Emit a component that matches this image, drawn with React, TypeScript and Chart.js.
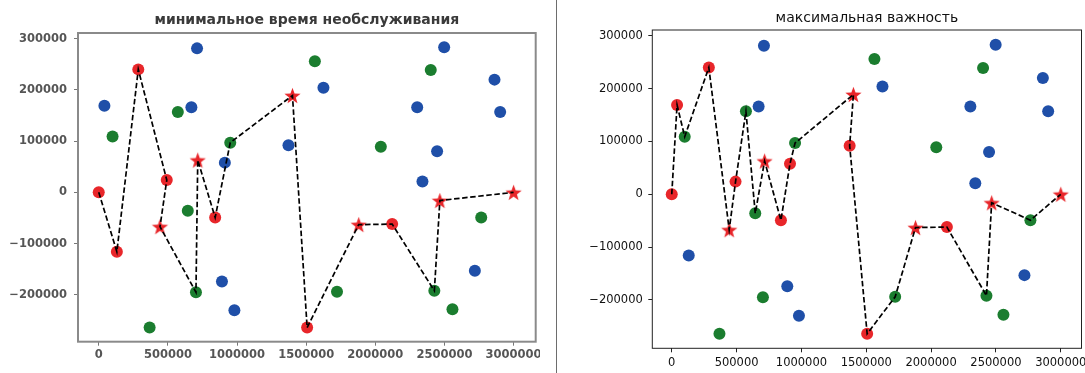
import React, { useEffect, useRef } from "react";
import { Chart, registerables } from "chart.js";

Chart.register(...registerables);

// ---- data ----
const pointX = [
  0, 41000, 100000, 131000, 286000, 368000, 443000, 492000, 572000, 644000,
  670000, 703000, 711000, 716000, 842000, 891000, 912000, 951000, 981000, 1372000,
  1401000, 1507000, 1563000, 1625000, 1723000, 1880000, 2040000, 2122000, 2303000, 2341000,
  2401000, 2427000, 2447000, 2467000, 2498000, 2558000, 2720000, 2766000, 2862000, 2903000,
  3000000,
];
const pointY = [
  0, 169000, 109000, -116000, 240000, -264000, -67000, 24000, 157000, -36000,
  166000, -195000, 281000, 63000, -49000, -174000, 58000, 97000, -230000, 92000,
  189000, -264000, 256000, 204000, -194000, -63000, 89000, -62000, 166000, 21000,
  239000, -192000, 80000, -16000, 283000, -228000, -153000, -49000, 220000, 157000,
  0,
];

const xTickValues = [0, 500000, 1000000, 1500000, 2000000, 2500000, 3000000];
const yTickValues = [-200000, -100000, 0, 100000, 200000, 300000];

// left panel: "минимальное время необслуживания"
const leftTitle = "минимальное время необслуживания";
const leftRed = [0, 3, 4, 7, 14, 21, 27];
const leftStars = [6, 13, 20, 25, 33, 40];
const leftGreen = [2, 5, 8, 9, 11, 17, 22, 24, 26, 30, 31, 35, 37];
const leftBlue = [1, 10, 12, 15, 16, 18, 19, 23, 28, 29, 32, 34, 36, 38, 39];
const leftRoute = [0, 3, 4, 7, 6, 11, 13, 14, 17, 20, 21, 25, 27, 31, 33, 40];

// right panel: "максимальная важность"
const rightTitle = "максимальная важность";
const rightRed = [0, 1, 4, 7, 14, 16, 19, 21, 27];
const rightStars = [6, 13, 20, 25, 33, 40];
const rightGreen = [2, 5, 8, 9, 11, 17, 22, 24, 26, 30, 31, 35, 37];
const rightBlue = [3, 10, 12, 15, 18, 23, 28, 29, 32, 34, 36, 38, 39];
const rightRoute = [0, 1, 2, 4, 6, 7, 8, 9, 13, 14, 16, 17, 20, 19, 21, 24, 25, 27, 31, 33, 37, 40];

const X_MIN = -150000;
const X_MAX = 3160000;
const Y_MIN = -291500;
const Y_MAX = 311000;

const RED = "#e8262a";
const GREEN = "#1b7d2f";
const BLUE = "#1f4fa8";

function pts(idx: number[]) {
  return idx.map((i) => ({ x: pointX[i], y: pointY[i] }));
}

function makeStar(outer: number, inner: number, color: string) {
  const size = Math.ceil(outer * 2 + 2);
  const c = document.createElement("canvas");
  c.width = size;
  c.height = size;
  const ctx = c.getContext("2d")!;
  ctx.beginPath();
  for (let i = 0; i < 10; i++) {
    const r = i % 2 === 0 ? outer : inner;
    const a = -Math.PI / 2 + (i * Math.PI) / 5;
    const px = size / 2 + r * Math.cos(a);
    const py = size / 2 + r * Math.sin(a) + 0.8;
    if (i === 0) ctx.moveTo(px, py);
    else ctx.lineTo(px, py);
  }
  ctx.closePath();
  ctx.fillStyle = color;
  ctx.fill();
  return c;
}

const fmt = (v: number) => String(v).replace("-", "\u2212");

const framePlugin = {
  id: "frame",
  afterDatasetsDraw(chart: any, _args: any, opts: any) {
    const { left, top, right, bottom } = chart.chartArea;
    const ctx = chart.ctx;
    ctx.save();
    ctx.strokeStyle = opts.color;
    ctx.lineWidth = opts.width;
    ctx.strokeRect(left, top, right - left, bottom - top);
    ctx.restore();
  },
};

type PanelProps = {
  title: string;
  red: number[];
  stars: number[];
  green: number[];
  blue: number[];
  route: number[];
  left: number;
  width: number;
  yAxisWidth: number;
  xAxisHeight: number;
  padRight: number;
  titleFont: any;
  titleColor: string;
  titlePad: { top: number; bottom: number };
  tickFont: any;
  tickColor: string;
  tickMarkColor: string;
  frameColor: string;
  frameWidth: number;
  xPad: number;
  yPad: number;
};

function Panel(p: PanelProps) {
  const ref = useRef<HTMLCanvasElement | null>(null);
  useEffect(() => {
    if (!ref.current) return;
    const star = makeStar(8.5, 3.5, RED);
    const chart = new Chart(ref.current, {
      type: "scatter",
      data: {
        datasets: [
          {
            label: "route",
            data: pts(p.route),
            showLine: true,
            borderColor: "#000",
            borderWidth: 1.7,
            borderDash: [5.5, 2.6],
            pointRadius: 0,
            fill: false,
            order: 0,
          },
          {
            label: "stars",
            data: pts(p.stars),
            pointStyle: star as any,
            pointRadius: 8,
            order: 1,
          },
          {
            label: "red",
            data: pts(p.red),
            backgroundColor: RED,
            borderColor: RED,
            borderWidth: 0,
            pointRadius: 6,
            order: 2,
          },
          {
            label: "green",
            data: pts(p.green),
            backgroundColor: GREEN,
            borderColor: GREEN,
            borderWidth: 0,
            pointRadius: 6,
            order: 3,
          },
          {
            label: "blue",
            data: pts(p.blue),
            backgroundColor: BLUE,
            borderColor: BLUE,
            borderWidth: 0,
            pointRadius: 6,
            order: 4,
          },
        ],
      },
      options: {
        animation: false,
        responsive: false,
        devicePixelRatio: 1,
        layout: { autoPadding: false, padding: { left: 0, right: p.padRight, top: 0, bottom: 0 } },
        plugins: {
          legend: { display: false },
          tooltip: { enabled: false },
          title: {
            display: true,
            text: p.title,
            fullSize: false,
            font: p.titleFont,
            color: p.titleColor,
            padding: p.titlePad,
          },
          frame: { color: p.frameColor, width: p.frameWidth },
        } as any,
        scales: {
          x: {
            type: "linear",
            min: X_MIN,
            max: X_MAX,
            afterBuildTicks: (s: any) => {
              s.ticks = xTickValues.map((v) => ({ value: v }));
            },
            afterFit: (s: any) => {
              s.height = p.xAxisHeight;
              s.paddingLeft = 0;
              s.paddingRight = 0;
            },
            grid: {
              drawOnChartArea: false,
              drawTicks: true,
              tickLength: 4,
              tickColor: p.tickMarkColor,
              tickWidth: 1,
            },
            border: { display: false },
            ticks: {
              autoSkip: false,
              maxRotation: 0,
              padding: p.xPad,
              font: p.tickFont,
              color: p.tickColor,
              callback: (v: any) => fmt(Number(v)),
            },
          },
          y: {
            type: "linear",
            min: Y_MIN,
            max: Y_MAX,
            afterBuildTicks: (s: any) => {
              s.ticks = yTickValues.map((v) => ({ value: v }));
            },
            afterFit: (s: any) => {
              s.width = p.yAxisWidth;
              s.paddingTop = 0;
              s.paddingBottom = 0;
            },
            grid: {
              drawOnChartArea: false,
              drawTicks: true,
              tickLength: 4,
              tickColor: p.tickMarkColor,
              tickWidth: 1,
            },
            border: { display: false },
            ticks: {
              autoSkip: false,
              padding: p.yPad,
              font: p.tickFont,
              color: p.tickColor,
              callback: (v: any) => fmt(Number(v)),
            },
          },
        },
      },
      plugins: [framePlugin as any],
    });
    return () => chart.destroy();
  }, []);
  return (
    <canvas
      ref={ref}
      width={p.width}
      height={373}
      style={{ position: "absolute", left: p.left, top: 0, width: p.width, height: 373 }}
    />
  );
}

export default function App() {
  return (
    <div
      style={{
        position: "absolute",
        left: 0,
        top: 0,
        width: 1085,
        height: 373,
        background: "#fff",
        overflow: "hidden",
      }}
    >
      <Panel
        title={leftTitle}
        red={leftRed}
        stars={leftStars}
        green={leftGreen}
        blue={leftBlue}
        route={leftRoute}
        left={0}
        width={540}
        yAxisWidth={78}
        xAxisHeight={31.3}
        padRight={4.3}
        titleFont={{ family: "DejaVu Sans", size: 14, weight: "bold" }}
        titleColor="#3a3a3a"
        titlePad={{ top: 11.6, bottom: 4.6 }}
        tickFont={{ family: "DejaVu Sans", size: 11.5, weight: "bold" }}
        tickColor="#555"
        tickMarkColor="#777"
        frameColor="#8a8a8a"
        frameWidth={2}
        xPad={2}
        yPad={7}
      />
      <div
        style={{ position: "absolute", left: 556, top: 0, width: 1, height: 373, background: "#6d6d6d" }}
      />
      <Panel
        title={rightTitle}
        red={rightRed}
        stars={rightStars}
        green={rightGreen}
        blue={rightBlue}
        route={rightRoute}
        left={560}
        width={525}
        yAxisWidth={92.3}
        xAxisHeight={24.7}
        padRight={3.5}
        titleFont={{ family: "DejaVu Sans", size: 14, weight: "normal" }}
        titleColor="#111"
        titlePad={{ top: 9.6, bottom: 3.6 }}
        tickFont={{ family: "DejaVu Sans", size: 11.5, weight: "normal" }}
        tickColor="#111"
        tickMarkColor="#222"
        frameColor="#222"
        frameWidth={1}
        xPad={4}
        yPad={5.5}
      />
    </div>
  );
}
